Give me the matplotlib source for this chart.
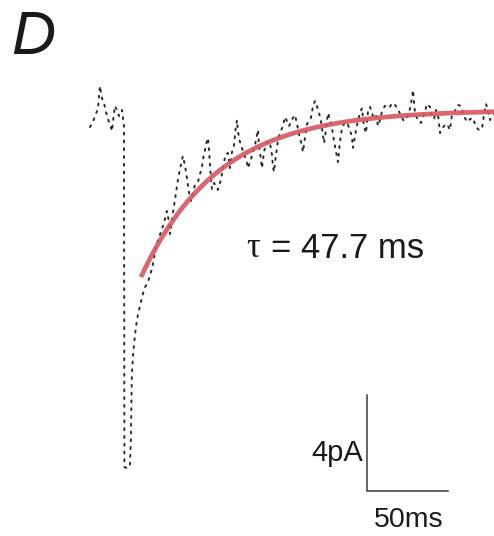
import matplotlib
matplotlib.use("Agg")
import matplotlib.pyplot as plt
import numpy as np

# Recorded current trace (time in ms relative to stimulus, current in pA)
time_ms = [
    -21.0, -19.8, -18.5, -17.3, -16.0, -15.4, -14.8, -14.2, -13.6, -12.3,
    -11.1, -9.9, -8.6, -7.4, -6.8, -5.6, -4.3, -3.1, -1.9, -1.2, -0.6, 0.0,
    0.3, 1.9, 3.7,
    4.3, 4.6, 4.9, 5.6, 6.8, 8.0, 9.3, 10.5, 11.7, 13.0, 14.2, 15.4, 16.7,
    17.9, 19.1, 20.4, 21.6, 22.8, 24.1, 25.3, 26.5, 27.8, 28.4, 29.6, 30.9,
    32.1, 33.3, 34.6, 35.8, 36.4, 37.7, 38.9, 40.1, 41.4, 42.6, 43.8, 45.7,
    46.9, 48.1, 48.8, 50.0, 51.2, 51.9, 52.5, 53.1, 53.7, 54.3, 55.6, 56.8,
    58.0, 59.3, 60.5, 61.7, 63.0, 64.2, 65.4, 66.7, 67.9, 69.1, 69.8, 70.4,
    71.6, 72.8, 74.7, 75.9, 76.5, 77.8, 79.0, 80.9, 82.1, 82.7, 83.3, 84.6,
    85.2, 86.4, 87.7, 88.9, 90.1, 91.4, 92.0, 92.6, 93.8, 95.1, 96.3, 98.1,
    99.4, 100.6, 101.9, 103.1, 104.3, 105.6, 106.8, 108.0, 109.3, 110.5,
    111.7, 113.0, 114.2, 115.4, 116.7, 117.9, 119.1, 120.4, 121.6, 122.8,
    123.5, 124.7, 125.9, 127.2, 128.4, 129.6, 130.9, 132.1, 133.3, 134.6,
    136.4, 138.3, 139.5, 140.7, 141.4, 142.6, 143.8, 145.7, 146.9, 148.1,
    149.4, 150.6, 151.9, 153.1, 154.3, 155.6, 156.8, 158.0, 159.3, 161.1,
    163.0, 164.2, 165.4, 167.3, 169.1, 171.0, 172.8, 174.7, 176.5, 177.8,
    178.4, 179.6, 181.5, 183.3, 185.2, 187.0, 188.9, 190.1, 191.4, 192.6,
    193.8, 195.1, 196.3, 197.5, 199.4, 201.2, 202.5, 204.3, 206.2, 208.0,
    209.9, 211.7, 213.6, 215.4, 217.3, 219.1, 221.0, 222.2, 223.5, 224.7,
    225.9, 227.2, 228.4,
]
current_pA = [
    -0.71, -0.58, -0.38, -0.17, 0.08, 0.58, 1.00, 0.75, 0.50, 0.29,
    -0.08, -0.38, -0.58, -0.88, -0.50, 0.17, 0.00, -0.25, -0.13, 0.00, -0.33, -0.67,
    -14.88, -14.92, -14.83,
    -13.75, -12.08, -11.04, -10.21, -9.38, -8.75, -8.33, -8.00, -7.67, -7.38, -7.25, -7.04, -6.75,
    -6.42, -5.96, -5.54, -5.33, -5.08, -4.83, -4.54, -4.21, -4.67, -5.17, -4.58, -4.00,
    -3.46, -2.92, -2.46, -2.08, -1.92, -2.33, -2.83, -3.42, -3.79, -3.46, -3.13, -3.00,
    -2.67, -2.42, -2.04, -1.67, -1.29, -1.17, -1.67, -2.29, -2.83, -3.29, -3.04, -3.17,
    -3.33, -3.04, -2.67, -2.17, -1.83, -1.79, -2.42, -1.75, -1.50, -0.67, -0.42, -0.92,
    -1.33, -1.58, -1.96, -2.17, -2.42, -2.17, -1.92, -1.46, -1.04, -0.83, -1.46, -2.08,
    -2.42, -1.75, -1.42, -1.29, -1.38, -1.88, -2.38, -2.58, -1.88, -1.25, -0.96, -0.67,
    -0.29, -0.46, -0.67, -0.50, -0.33, -0.21, -0.58, -1.00, -1.33, -1.75,
    -1.17, -0.58, -0.46, -0.33, 0.17, 0.38, 0.17, -0.13, -0.46, -1.04,
    -1.38, -0.83, -0.13, -0.38, -0.75, -1.25, -1.75, -2.17, -1.33, -0.75,
    -0.50, -0.63, -0.83, -1.13, -1.58, -1.08, -0.63, -0.13, 0.08, -0.67,
    -0.96, -0.08, 0.13, -0.13, -0.38, -0.25, -0.67, -0.42, -0.04, 0.17,
    0.21, 0.13, 0.29, 0.21, 0.04, -0.25, -0.46, -0.29, 0.04, 0.50,
    0.83, -0.08, -0.46, -0.54, -0.21, 0.25, 0.13, -0.29, -0.38, 0.00,
    -0.17, -0.96, -0.79, -0.67, -0.58, -0.83, -0.17, -0.04, 0.21, 0.17,
    -0.25, -0.50, -0.38, -0.33, -0.71, -0.83, -0.79, -0.21, 0.25, -0.04,
    -0.42, -0.25, -0.17,
]

# Single-exponential fit of the recovery
fit_tau_ms = 47.7
fit_start_ms = 10.5
fit_amp_pA = -6.96
fit_offset_pA = 0.0

# Scale bar
bar_ms = 50
bar_pA = 4
bar_origin = (150.0, -15.875)

fig = plt.figure(figsize=(4.94, 5.36), dpi=100)
ax = fig.add_axes([0, 0, 1, 1])
ax.set_xlim(-76.5, 228.4)
ax.set_ylim(-17.75, 4.583)
ax.axis("off")

ax.plot(time_ms, current_pA, color="#2b2b2b", lw=1.4,
        linestyle=(0, (1, 3.0)), dash_capstyle="round", zorder=2)

t_fit = np.linspace(fit_start_ms, 228.4, 300)
i_fit = fit_offset_pA + fit_amp_pA * np.exp(-(t_fit - fit_start_ms) / fit_tau_ms)
ax.plot(t_fit, i_fit, color="#d9575f", lw=3.4, alpha=0.9,
        solid_capstyle="butt", zorder=3)

# Scale bar
x0, y0 = bar_origin
ax.plot([x0, x0, x0 + bar_ms], [y0 + bar_pA, y0, y0], color="#3a3a3a",
        lw=1.1, solid_joinstyle="miter")
ax.text(x0 - 2.4, y0 + 1.6, f"{bar_pA}pA", ha="right", va="center",
        fontsize=21, family="Liberation Sans", color="#1a1a1a")
ax.text(x0 + bar_ms / 2 + 0.9, y0 - 1.2, f"{bar_ms}ms", ha="center",
        va="center", fontsize=20.5, family="Liberation Sans", color="#1a1a1a")

# Time constant label
ax.text(75.3, -5.79, "τ", ha="left", va="center", fontsize=25,
        family="Liberation Serif", color="#1a1a1a")
ax.text(90.8, -5.79, f"= {fit_tau_ms} ms", ha="left", va="center",
        fontsize=25, family="Liberation Sans", color="#1a1a1a")

# Panel letter
fig.text(11 / 494, 1 - 39 / 536, "D", ha="left", va="center", fontsize=44,
         style="italic", family="Liberation Sans", color="#1a1a1a")

fig.savefig("out.png", dpi=100)
